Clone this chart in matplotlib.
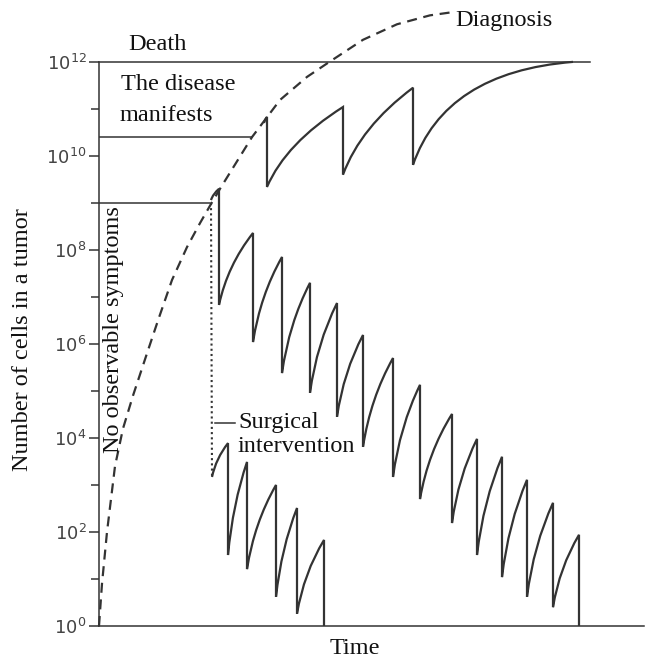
"""Tumour growth under surgery and chemotherapy (log scale cell counts)."""

import matplotlib
matplotlib.use("Agg")
import matplotlib.pyplot as plt
import numpy as np
from matplotlib.path import Path
from matplotlib.patches import PathPatch
from matplotlib.ticker import NullFormatter

# time in arbitrary units, sizes as log10(number of cells)
DIAG_T = [0, 3, 8, 16, 24, 34, 48, 59, 73, 88, 101, 111, 121, 153, 181, 208, 229, 244, 264, 298,
          331, 351]
DIAG_LOG = [0, 0.9, 2.0, 3.4, 4.2, 4.9, 5.8, 6.5, 7.36, 8.06, 8.57, 8.94, 9.3, 10.4, 11.19, 11.68,
            11.98, 12.19, 12.47, 12.80, 12.99, 13.05]

DEATH_LOG = 12.0
MANIFEST_LOG = 10.4
SYMPTOM_LOG = 9.0

# late treatment: regrowth up to death
LATE_START = (165, 10.70)
LATE_PEAK_T = [168, 244, 314, 474]
LATE_PEAK_LOG = [10.83, 11.04, 11.45, 12.0]
LATE_TROUGH_LOG = [9.34, 9.60, 9.81]

# chemotherapy only after diagnosis at 10^9
CHEMO_START = (112, 9.06)
CHEMO_PEAK_T = [120, 154, 183, 211, 238, 264, 294, 321, 353, 378, 403, 428, 454, 480]
CHEMO_PEAK_LOG = [9.30, 8.36, 7.85, 7.30, 6.87, 6.19, 5.70, 5.13, 4.51, 3.98, 3.60, 3.11, 2.62, 1.94]
CHEMO_TROUGH_LOG = [6.83, 6.04, 5.38, 4.96, 4.45, 3.81, 3.17, 2.70, 2.19, 1.51, 1.04, 0.62, 0.40, 0.0]

# surgery followed by chemotherapy
SURG_START = (113, 3.17)
SURG_PEAK_T = [129, 148, 177, 198, 225]
SURG_PEAK_LOG = [3.89, 3.49, 3.00, 2.51, 1.83]
SURG_TROUGH_LOG = [1.51, 1.21, 0.62, 0.26, 0.0]

SURG_MARK_LOG = 4.32

INK = "#333333"
SERIF = "Liberation Serif"


def sawtooth(start, peak_t, peak_log, trough_log, bend=(0.25, 0.55), last_bend=None):
    """Regrowth arcs (quadratic Bezier in log space) and vertical drops."""
    verts = [(start[0], 10.0 ** start[1])]
    codes = [Path.MOVETO]
    t0, l0 = start
    for i, (t1, l1) in enumerate(zip(peak_t, peak_log)):
        a, b = bend
        if last_bend is not None and i == len(peak_t) - 1:
            a, b = last_bend
        ct = t0 + a * (t1 - t0)
        cl = l0 + b * (l1 - l0)
        verts += [(ct, 10.0 ** cl), (t1, 10.0 ** l1)]
        codes += [Path.CURVE3, Path.CURVE3]
        if i < len(trough_log):
            verts.append((t1, 10.0 ** trough_log[i]))
            codes.append(Path.LINETO)
            t0, l0 = t1, trough_log[i]
    return Path(verts, codes)


fig = plt.figure(figsize=(6.49, 6.64), dpi=100)
ax = fig.add_axes([99 / 649, 38 / 664, 545 / 649, 621 / 664])
ax.set_yscale("log")
ax.set_xlim(0, 545)
ax.set_ylim(1, 10 ** 13.21)

# threshold lines
ax.plot([0, 491], [10 ** DEATH_LOG] * 2, color=INK, lw=1.1, clip_on=False)
ax.plot([0, 153], [10 ** MANIFEST_LOG] * 2, color=INK, lw=1.1)
ax.plot([0, 111], [10 ** SYMPTOM_LOG] * 2, color=INK, lw=1.1)

# diagnosis curve
ax.plot(DIAG_T, 10.0 ** np.array(DIAG_LOG), color=INK, lw=1.6,
        linestyle=(0, (4.5, 3)), clip_on=False)

# surgery: dotted drop from 10^9
ax.plot([CHEMO_START[0], SURG_START[0]], [10 ** SYMPTOM_LOG, 10 ** SURG_START[1]],
        color=INK, lw=1.5, linestyle=(0, (1, 1.5)))
ax.plot([116, 136], [10 ** SURG_MARK_LOG] * 2, color=INK, lw=1.1)

for path in (
    sawtooth(LATE_START, LATE_PEAK_T, LATE_PEAK_LOG, LATE_TROUGH_LOG, last_bend=(0.2, 0.9)),
    sawtooth(CHEMO_START, CHEMO_PEAK_T, CHEMO_PEAK_LOG, CHEMO_TROUGH_LOG),
    sawtooth(SURG_START, SURG_PEAK_T, SURG_PEAK_LOG, SURG_TROUGH_LOG),
):
    ax.add_patch(PathPatch(path, facecolor="none", edgecolor=INK, lw=1.6,
                           joinstyle="miter", clip_on=False))

# axes
for side in ("top", "right"):
    ax.spines[side].set_visible(False)
ax.spines["left"].set_bounds(1, 1e12)
ax.spines["left"].set_linewidth(1.1)
ax.spines["bottom"].set_linewidth(1.1)
ax.spines["left"].set_color(INK)
ax.spines["bottom"].set_color(INK)
ax.set_xticks([])
major = list(range(0, 13, 2))
ax.set_yticks([10.0 ** e for e in major])
ax.set_yticklabels([f"$10^{{{e}}}$" for e in major], fontsize=13, color="#444444")
ax.set_yticks([10.0 ** e for e in range(1, 12, 2)], minor=True)
ax.yaxis.set_minor_formatter(NullFormatter())
ax.tick_params(axis="y", which="major", length=7, width=1.1, color=INK, pad=2)
ax.tick_params(axis="y", which="minor", length=6, width=1.1, color=INK)

# labels
tkw = dict(family=SERIF, fontsize=17.5, color="#111111")
ax.text(29, 10 ** 12.38, "Death", ha="left", va="center", **tkw)
ax.text(22, 10 ** 11.51, "The disease", ha="left", va="center", **tkw)
ax.text(21, 10 ** 10.85, "manifests", ha="left", va="center", **tkw)
ax.text(356, 10 ** 12.89, "Diagnosis", ha="left", va="center", **tkw)
ax.text(139, 10 ** SURG_MARK_LOG, "Surgical", ha="left", va="center", **tkw)
ax.text(139, 10 ** 3.81, "intervention", ha="left", va="center", **tkw)
ax.text(14, 10 ** 6.30, "No observable symptoms", rotation=90, ha="center", va="center", **tkw)
ax.text((355 - 99) / 545, -(649 - 626) / 621, "Time", transform=ax.transAxes,
        ha="center", va="center", **tkw)
ax.text((23 - 99) / 545, (626 - 340) / 621, "Number of cells in a tumor", transform=ax.transAxes,
        rotation=90, ha="center", va="center", **tkw)

fig.savefig("out.png", dpi=100)
